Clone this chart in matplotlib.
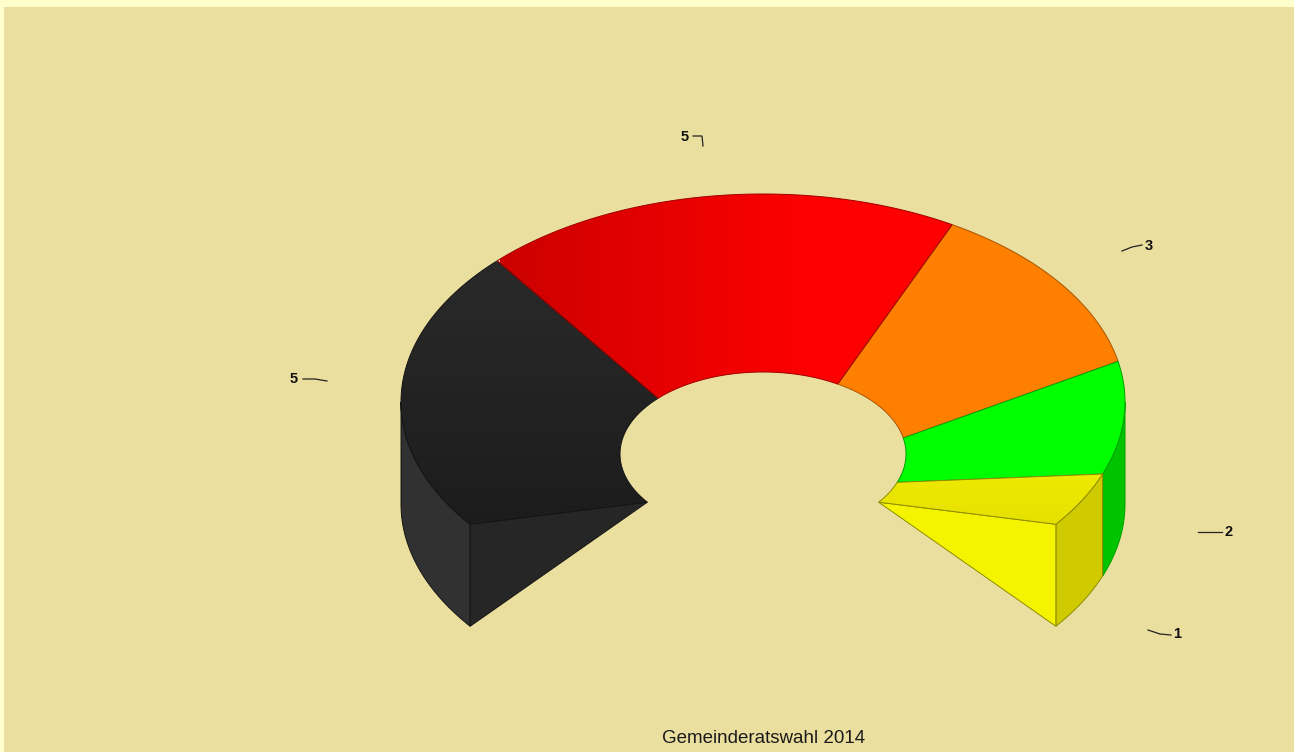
import numpy as np
import matplotlib
matplotlib.use('Agg')
import matplotlib.pyplot as plt
from matplotlib.colors import LinearSegmentedColormap
from matplotlib.patches import Polygon, Rectangle

plt.rcParams['font.family'] = ['Liberation Sans', 'DejaVu Sans']

# seats per party, clockwise from the lower left cut
seats = [5, 5, 3, 2, 1]
top_colors = ['#262626', '#f00000', '#ff8000', '#00ff00', '#ecE800']
wall_colors = ['#313131', '#c00000', '#cc6600', '#00c400', '#cfcb00']
face_colors = {0: '#262626', 4: '#f4f400'}
edge_colors = ['#141414', '#a00000', '#a85400', '#00a000', '#8f8c00']
title = 'Gemeinderatswahl 2014'

# leader lines next to the seat numbers
leaders = [
    [(303, 379), (315, 379), (327, 381)],
    [(693, 136), (702, 136), (703, 146)],
    [(1122, 251), (1132, 247), (1142, 245)],
    [(1198, 532), (1222, 532)],
    [(1148, 630), (1160, 634), (1171, 635)],
]
label_pos = [(294, 379), (685, 137), (1149, 246), (1229, 532), (1177, 634)]

# ring geometry in screen pixels
CX = 763
OUTER = (362, 208, 402)   # rx, ry, centre y
INNER = (143, 82, 454)
DEPTH = 102
GAP = 108.0
START = 144.0


def ell(radii, a):
    t = np.radians(a)
    return np.column_stack((CX + radii[0] * np.cos(t), radii[2] + radii[1] * np.sin(t)))


def sector(a0, a1):
    angles = np.linspace(a0, a1, 120)
    return np.vstack((ell(OUTER, angles), ell(INNER, angles[::-1])))


def gradient(ax, pts, edge, stops, box, horizontal):
    cmap = LinearSegmentedColormap.from_list('g', stops)
    ramp = np.linspace(0, 1, 256)
    data = ramp.reshape(1, -1) if horizontal else ramp.reshape(-1, 1)
    clip = Polygon(pts, fc='none', ec='none', zorder=4)
    ax.add_patch(clip)
    im = ax.imshow(data, cmap=cmap, extent=box, origin='upper', aspect='auto', zorder=4)
    im.set_clip_path(clip)
    ax.add_patch(Polygon(pts, fc='none', ec=edge, lw=0.7, zorder=4.5))


fig = plt.figure(figsize=(12.94, 7.52), dpi=100, facecolor='#ebdfa0')
ax = fig.add_axes([0, 0, 1, 1])
ax.axis('off')

ax.add_patch(Rectangle((0, 0), 1294, 7, color='#ffffcc', lw=0, zorder=0))
ax.add_patch(Rectangle((0, 0), 4, 752, color='#ffffcc', lw=0, zorder=0))

step = (360.0 - GAP) / sum(seats)
edges = START + np.cumsum([0] + seats) * step

# outer walls that face the viewer
for i, (a0, a1) in ((0, (edges[0], 180.0)), (3, (360.0, edges[4])), (4, (edges[4], edges[5]))):
    angles = np.linspace(a0, a1, 60)
    top = ell(OUTER, angles)
    low = top[::-1] + [0, DEPTH]
    ax.add_patch(Polygon(np.vstack((top, low)), fc=wall_colors[i], ec=edge_colors[i], lw=0.7, zorder=2))

# cut faces at both ends of the ring
for i, a in ((0, edges[0]), (4, edges[5])):
    outer = ell(OUTER, a)[0]
    inner = ell(INNER, a)[0]
    ax.add_patch(Polygon([inner, outer, outer + [0, DEPTH]], fc=face_colors[i], ec=edge_colors[i], lw=0.7, zorder=3))

# top surface
for i in range(len(seats)):
    pts = sector(edges[i], edges[i + 1])
    if i == 0:
        gradient(ax, pts, edge_colors[i], ['#2a2a2a', '#1c1c1c'], (401, 660, 525, 262), False)
    elif i == 1:
        gradient(ax, pts, edge_colors[i], [(0, '#cc0000'), (0.7, '#ff0000'), (1, '#ff0000')], (500, 955, 400, 190), True)
    elif i == 4:
        gradient(ax, pts, edge_colors[i], ['#eeea00', '#e6e000'], (879, 1102, 525, 474), False)
    else:
        ax.add_patch(Polygon(pts, fc=top_colors[i], ec=edge_colors[i], lw=0.7, zorder=4))

for seat, line, pos in zip(seats, leaders, label_pos):
    xs, ys = zip(*line)
    ax.plot(xs, ys, color='#222222', lw=0.9, zorder=5)
    ax.text(pos[0], pos[1], str(seat), fontsize=10.5, fontweight='bold', color='#111111',
            ha='center', va='center', zorder=5)

ax.text(763.5, 738.5, title, fontsize=13.5, color='#1a1a1a', ha='center', va='center')

ax.set_xlim(0, 1294)
ax.set_ylim(752, 0)
fig.savefig('out.png', dpi=100, facecolor=fig.get_facecolor())
